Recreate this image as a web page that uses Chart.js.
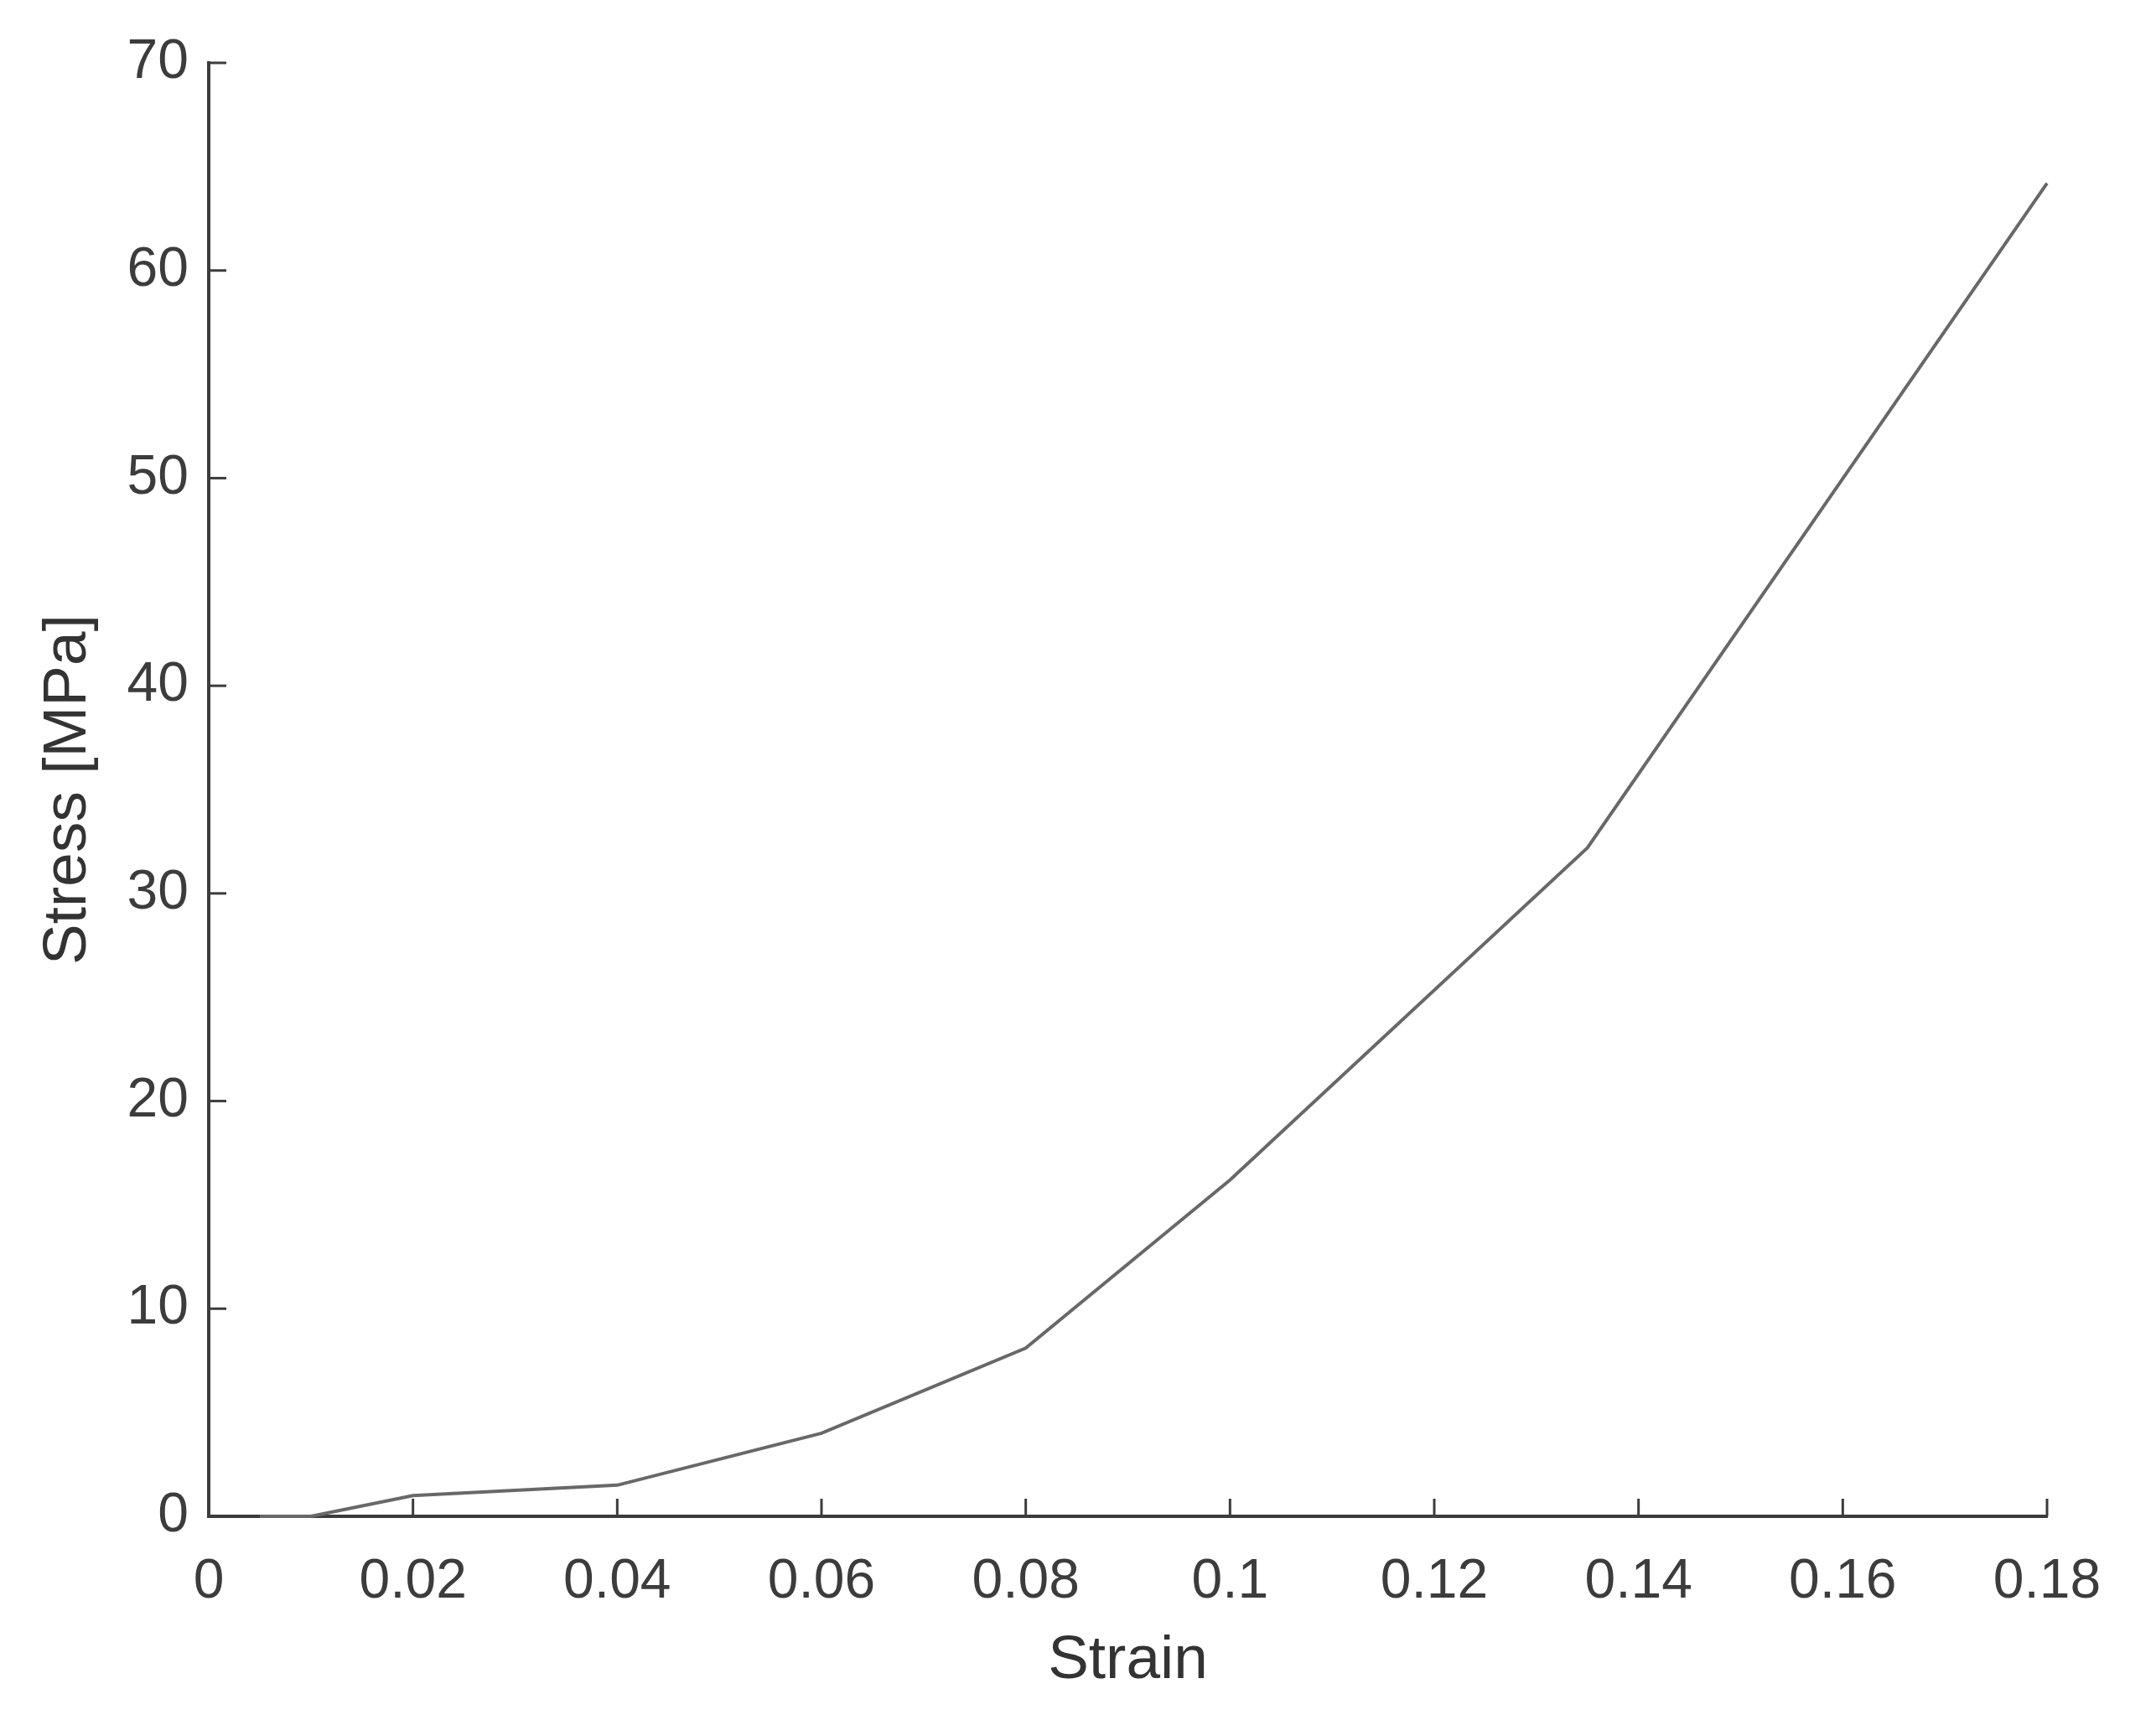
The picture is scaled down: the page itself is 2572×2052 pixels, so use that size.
<!DOCTYPE html>
<html>
<head>
<meta charset="utf-8">
<script src="https://cdn.jsdelivr.net/npm/chart.js@4"></script>
<style>
  html, body { margin: 0; padding: 0; background: #fff; }
  canvas { display: block; }
</style>
</head>
<body>
<canvas id="stress-chart" width="2572" height="2052"></canvas>
<script>
// Данные кривой
const strain = [0.005, 0.01, 0.02, 0.04, 0.06, 0.08, 0.1, 0.135, 0.18];
const stress = [0, 0, 1.0, 1.5, 4.0, 8.1, 16.2, 32.2, 64.2];
const xTickLabels = ['0', '0.02', '0.04', '0.06', '0.08', '0.1', '0.12', '0.14', '0.16', '0.18'];
const yTickLabels = ['0', '10', '20', '30', '40', '50', '60', '70'];

const axisColor = '#3c3c3c';
const fontFamily = '"Liberation Sans", Arial, sans-serif';

// Засечки внутрь области графика
const innerTicks = {
    id: 'innerTicks',
    afterDraw(chart) {
        const c = chart.ctx;
        const area = chart.chartArea;
        const len = 21;
        c.save();
        c.strokeStyle = axisColor;
        c.lineWidth = 3;
        chart.scales.x.ticks.forEach((t) => {
            const px = chart.scales.x.getPixelForValue(t.value);
            c.beginPath();
            c.moveTo(px, area.bottom);
            c.lineTo(px, area.bottom - len);
            c.stroke();
        });
        chart.scales.y.ticks.forEach((t) => {
            const py = chart.scales.y.getPixelForValue(t.value);
            c.beginPath();
            c.moveTo(area.left, py);
            c.lineTo(area.left + len, py);
            c.stroke();
        });
        c.restore();
    }
};

const ctx = document.getElementById('stress-chart').getContext('2d');
const chart = new Chart(ctx, {
    type: 'line',
    data: {
        datasets: [{
            data: strain.map((x, i) => ({ x: x, y: stress[i] })),
            borderColor: '#686868',
            borderWidth: 4,
            pointRadius: 0,
            tension: 0,
            fill: false,
            clip: false
        }]
    },
    options: {
        responsive: false,
        animation: false,
        layout: { padding: { top: 75, right: 130, left: 0, bottom: 0 } },
        plugins: {
            legend: { display: false },
            tooltip: { enabled: false }
        },
        scales: {
            x: {
                type: 'linear',
                min: 0,
                max: 0.18,
                afterFit: (scale) => { scale.height = 243; },
                afterBuildTicks: (scale) => {
                    scale.ticks = xTickLabels.map((l) => ({ value: parseFloat(l) }));
                },
                ticks: {
                    callback: (value, index) => xTickLabels[index],
                    color: axisColor,
                    font: { family: fontFamily, size: 66 },
                    padding: 39,
                    maxRotation: 0,
                    autoSkip: false
                },
                grid: { display: true, drawOnChartArea: false, drawTicks: false },
                border: { display: true, color: axisColor, width: 4 },
                title: {
                    display: true,
                    text: 'Strain',
                    color: '#333333',
                    font: { family: fontFamily, size: 73 },
                    padding: { top: 0, bottom: 26 }
                }
            },
            y: {
                type: 'linear',
                min: 0,
                max: 70,
                afterFit: (scale) => { scale.width = 249; },
                afterBuildTicks: (scale) => {
                    scale.ticks = yTickLabels.map((l) => ({ value: parseFloat(l) }));
                },
                ticks: {
                    callback: (value, index) => yTickLabels[index],
                    color: axisColor,
                    font: { family: fontFamily, size: 66 },
                    padding: 24
                },
                grid: { display: true, drawOnChartArea: false, drawTicks: false },
                border: { display: true, color: axisColor, width: 4 },
                title: {
                    display: true,
                    text: 'Stress [MPa]',
                    color: '#333333',
                    font: { family: fontFamily, size: 73 },
                    padding: { top: 38, bottom: 0 }
                }
            }
        }
    },
    plugins: [innerTicks]
});
</script>
</body>
</html>
